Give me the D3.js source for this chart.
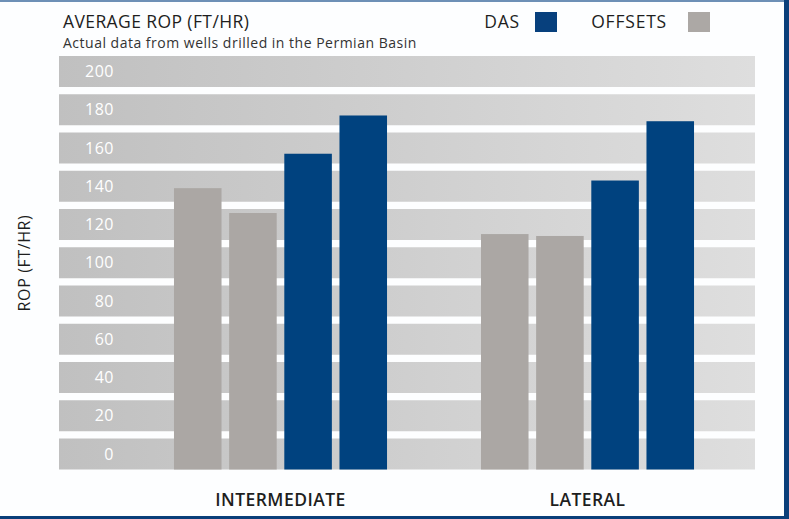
<!DOCTYPE html>
<html>
<head>
<meta charset="utf-8">
<script src="https://cdn.jsdelivr.net/npm/d3@7"></script>
<style>
  html, body { margin: 0; padding: 0; background: #fdfeff; }
  svg { display: block; font-family: "Open Sans", sans-serif; }
</style>
</head>
<body>
<div id="chart"></div>
<script>
// Data
const groups = ['INTERMEDIATE', 'LATERAL'];
const series = ['OFFSETS 1', 'OFFSETS 2', 'DAS 1', 'DAS 2'];
const offsets1 = [139, 115];
const offsets2 = [126, 114];
const das1 = [157, 143];
const das2 = [177, 174];
const yTicks = [0, 20, 40, 60, 80, 100, 120, 140, 160, 180, 200];
const legendItems = ['DAS', 'OFFSETS'];

const values = [offsets1, offsets2, das1, das2];
const seriesColor = ['#aba7a4', '#aba7a4', '#00427f', '#00427f'];
const legendColor = {DAS: '#07407d', OFFSETS: '#aca8a5'};

const W = 789, H = 519;
const bandH = 31;

const svg = d3.select('#chart').append('svg')
  .attr('width', W)
  .attr('height', H);

// Frame
svg.append('rect').attr('x', 0).attr('y', 0).attr('width', W).attr('height', H).attr('fill', '#fdfeff');
svg.append('rect').attr('x', 0).attr('y', 0).attr('width', W).attr('height', 2).attr('fill', '#6d90b6');
svg.append('rect').attr('x', 784).attr('y', 0).attr('width', 5).attr('height', H).attr('fill', '#0a3f7a');
svg.append('rect').attr('x', 0).attr('y', 516).attr('width', W).attr('height', 3).attr('fill', '#0a3f7a');

// Gradient for background bands
const grad = svg.append('defs').append('linearGradient')
  .attr('id', 'bandGrad')
  .attr('x1', '0%').attr('x2', '100%').attr('y1', '0%').attr('y2', '0%');
grad.append('stop').attr('offset', '0%').attr('stop-color', '#c0c0c0');
grad.append('stop').attr('offset', '100%').attr('stop-color', '#dedede');

// Scales
const yScale = d3.scaleLinear()
  .domain([0, 200])
  .range([454, 71.5]);

const x0 = d3.scaleBand()
  .domain(groups)
  .range([127, 741])
  .paddingInner(0.306)
  .paddingOuter(0.153);

const x1 = d3.scaleBand()
  .domain(series)
  .range([0, x0.bandwidth()])
  .paddingInner(0.138);

const bandLeft = 59, bandRight = 755;

// Bands
const bands = svg.append('g');
bands.selectAll('rect')
  .data(yTicks)
  .join('rect')
  .attr('x', bandLeft)
  .attr('width', bandRight - bandLeft)
  .attr('y', d => yScale(d) - bandH / 2)
  .attr('height', bandH)
  .attr('fill', 'url(#bandGrad)');

bands.selectAll('text')
  .data(yTicks)
  .join('text')
  .attr('x', 114)
  .attr('y', d => yScale(d))
  .attr('dy', '0.35em')
  .attr('text-anchor', 'end')
  .attr('fill', '#ffffff')
  .attr('font-size', 16)
  .attr('letter-spacing', 0.5)
  .text(d => d);

// Bars
const baseY = yScale(0) + bandH / 2;
groups.forEach((g, gi) => {
  svg.append('g')
    .attr('transform', `translate(${x0(g)},0)`)
    .selectAll('rect')
    .data(series)
    .join('rect')
    .attr('x', s => x1(s))
    .attr('width', x1.bandwidth())
    .attr('y', (s, si) => yScale(values[si][gi]))
    .attr('height', (s, si) => baseY - yScale(values[si][gi]))
    .attr('fill', (s, si) => seriesColor[si]);
});

// Group labels
svg.append('g').selectAll('text')
  .data(groups)
  .join('text')
  .attr('x', d => x0(d) + x0.bandwidth() / 2)
  .attr('y', 506)
  .attr('text-anchor', 'middle')
  .attr('fill', '#1e1e1e')
  .attr('font-size', 17.5)
  .attr('font-weight', 600)
  .attr('letter-spacing', 0.45)
  .text(d => d);

// Titles
svg.append('text')
  .attr('x', 63).attr('y', 28)
  .attr('fill', '#1e1e1e')
  .attr('font-size', 17.5)
  .attr('font-weight', 500)
  .attr('letter-spacing', 0.4)
  .text('AVERAGE ROP (FT/HR)');

svg.append('text')
  .attr('x', 63).attr('y', 48)
  .attr('fill', '#333333')
  .attr('font-size', 14)
  .attr('letter-spacing', 0.5)
  .text('Actual data from wells drilled in the Permian Basin');

// Y axis title
svg.append('text')
  .attr('transform', 'translate(30,263) rotate(-90)')
  .attr('text-anchor', 'middle')
  .attr('fill', '#1e1e1e')
  .attr('font-size', 16)
  .attr('letter-spacing', 0.6)
  .text('ROP (FT/HR)');

// Legend
const legendTextEnd = [520, 667];
const legendBoxX = [535, 688];
legendItems.forEach((name, i) => {
  svg.append('text')
    .attr('x', legendTextEnd[i])
    .attr('y', 28)
    .attr('text-anchor', 'end')
    .attr('fill', '#1e1e1e')
    .attr('font-size', 17.5)
    .attr('font-weight', 500)
    .attr('letter-spacing', 0.8)
    .text(name);
  svg.append('rect')
    .attr('x', legendBoxX[i])
    .attr('y', 12)
    .attr('width', 22)
    .attr('height', 20)
    .attr('fill', legendColor[name]);
});
</script>
</body>
</html>
